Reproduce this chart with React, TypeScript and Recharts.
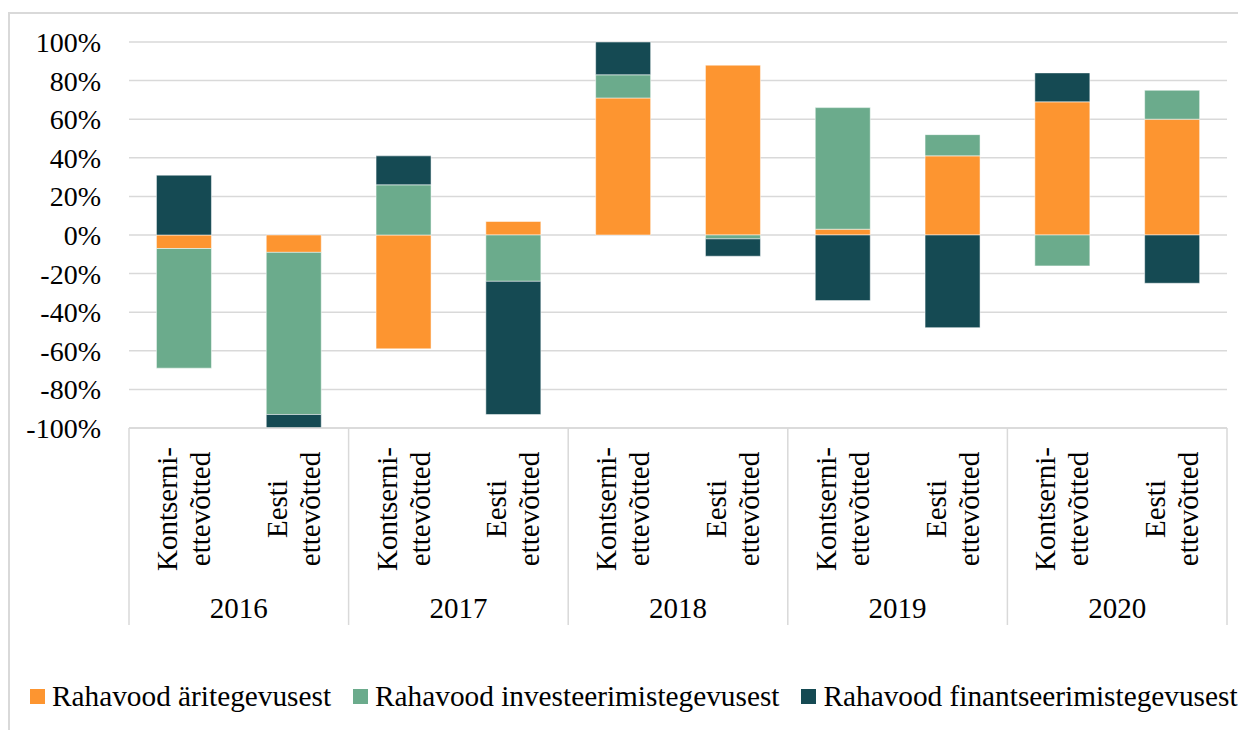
import React from "react";
import { BarChart, Bar, XAxis, YAxis, CartesianGrid } from "recharts";

const years = ["2016", "2017", "2018", "2019", "2020"];
const companyTypes = ["Kontserni-\nettevõtted", "Eesti\nettevõtted"];

// % of total cash flow, one value per bar (year x company type)
const operating = [-7, -9, -59, 7, 71, 88, 3, 41, 69, 60];
const investing = [-62, -84, 26, -24, 12, -2, 63, 11, -16, 15];
const financing = [31, -7, 15, -69, 17, -9, -34, -48, 15, -25];

const SERIES = [
  { key: "operating", name: "Rahavood äritegevusest", color: "#fd9530" },
  { key: "investing", name: "Rahavood investeerimistegevusest", color: "#6bab8c" },
  { key: "financing", name: "Rahavood finantseerimistegevusest", color: "#154a53" },
];

const rows = years.flatMap((year, yi) =>
  companyTypes.map((cat, ci) => {
    const i = yi * companyTypes.length + ci;
    return {
      id: `${year}-${ci}`,
      year,
      cat,
      operating: operating[i],
      investing: investing[i],
      financing: financing[i],
    };
  })
);

const FONT = '"Liberation Serif", "Times New Roman", serif';
const GRID = "#d9d9d9";
const CHART_W = 1236;
const CHART_H = 716;
const MARGIN = { top: 28, right: 19, bottom: 0, left: 0 };
const Y_W = 119;
const BAND = (CHART_W - MARGIN.left - MARGIN.right - Y_W) / rows.length;

function PercentTick(props: any) {
  const { x, y, payload } = props;
  return (
    <text x={x} y={y} dy={10} textAnchor="end" fontFamily={FONT} fontSize={28} fill="#000">
      {`${Math.round(payload.value)}%`}
    </text>
  );
}

// two-line rotated category label + year label and group separators below
function CategoryTick(props: any) {
  const { x, y, payload } = props;
  const idx: number = props.index ?? payload.index;
  const row = rows[idx];
  if (!row) return null;
  const lines = row.cat.split("\n");
  const groupSize = companyTypes.length;
  const isFirst = idx % groupSize === 0;
  const isLast = idx % groupSize === groupSize - 1;
  return (
    <g transform={`translate(${x},${y})`}>
      <text transform="rotate(-90)" textAnchor="middle" fontFamily={FONT} fontSize={29} fill="#000">
        {lines.map((l: string, i: number) => (
          <tspan key={i} x={-81} y={-7 + i * 33}>
            {l}
          </tspan>
        ))}
      </text>
      {isFirst && <line x1={-BAND / 2} x2={-BAND / 2} y1={0} y2={197} stroke={GRID} strokeWidth={1.5} />}
      {idx === rows.length - 1 && (
        <line x1={BAND / 2} x2={BAND / 2} y1={0} y2={197} stroke={GRID} strokeWidth={1.5} />
      )}
      {isLast && (
        <text x={-BAND / 2} y={190} textAnchor="middle" fontFamily={FONT} fontSize={29} fill="#000">
          {row.year}
        </text>
      )}
    </g>
  );
}

export default function App() {
  return (
    <div
      style={{
        position: "relative",
        marginTop: 4,
        width: CHART_W,
        height: CHART_H,
        borderTop: `2px solid ${GRID}`,
        borderLeft: `2px solid ${GRID}`,
      }}
    >
      {/* barCategoryGap is per side: 25% each side leaves a bar half the band wide */}
      <BarChart
        width={CHART_W}
        height={CHART_H}
        data={rows}
        margin={MARGIN}
        stackOffset="sign"
        barCategoryGap="25%"
      >
        <CartesianGrid vertical={false} stroke={GRID} strokeWidth={1.5} />
        <XAxis
          dataKey="id"
          interval={0}
          height={CHART_H - 414}
          tickLine={false}
          tickSize={0}
          tickMargin={0}
          axisLine={{ stroke: GRID, strokeWidth: 1.5 }}
          tick={<CategoryTick />}
        />
        <YAxis
          width={Y_W}
          tickCount={11}
          axisLine={false}
          tickLine={false}
          tickSize={0}
          tickMargin={28}
          tick={<PercentTick />}
        />
        {SERIES.map((s) => (
          <Bar
            key={s.key}
            dataKey={s.key}
            name={s.name}
            stackId="a"
            fill={s.color}
            stroke="#ffffff"
            strokeOpacity={0.5}
            strokeWidth={1}
            isAnimationActive={false}
          />
        ))}
      </BarChart>
      <div
        style={{
          position: "absolute",
          left: 20,
          top: 666,
          display: "flex",
          alignItems: "center",
          fontFamily: FONT,
          fontSize: 29.3,
          lineHeight: "32px",
          color: "#000",
          whiteSpace: "nowrap",
        }}
      >
        {SERIES.map((s) => (
          <div key={s.key} style={{ display: "flex", alignItems: "center", marginRight: 22 }}>
            <span style={{ width: 15, height: 15, background: s.color, marginRight: 7 }} />
            <span>{s.name}</span>
          </div>
        ))}
      </div>
    </div>
  );
}
